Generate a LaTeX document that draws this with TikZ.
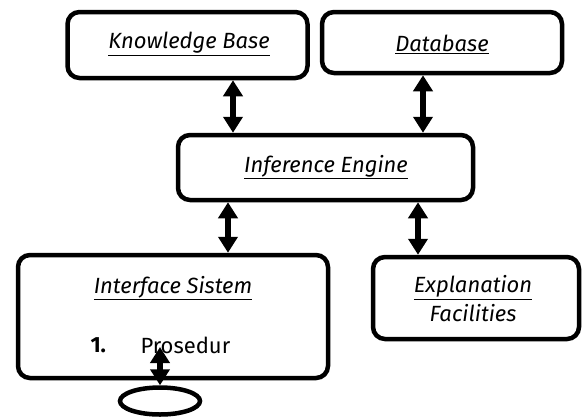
\documentclass[tikz,border=0pt]{standalone}
\usepackage{fontspec}
\setmainfont{Fira Sans}
\usetikzlibrary{arrows.meta,shapes.geometric}

\tikzset{
  blockbox/.style={draw=black, line width=4.5pt, rounded corners=12pt, fill=white,
    inner sep=0pt},
  label/.style={font=\fontsize{22}{27}\selectfont\itshape, align=center},
  plain/.style={font=\fontsize{22}{27}\selectfont, anchor=west},
  biarrow/.style={line width=6pt,
    {Triangle[width=19pt,length=16pt]}-{Triangle[width=19pt,length=16pt]}},
}
\newcommand{\ul}[1]{\underline{#1}}

\begin{document}
\begin{tikzpicture}[x=1pt,y=-1pt]
  \useasboundingbox (0,0) rectangle (583,418);

  % boxes
  \node[blockbox, minimum width=240pt, minimum height=66pt] (kb) at (187.5,45) {};
  \node[blockbox, minimum width=240pt, minimum height=61pt] (db) at (442,42.5) {};
  \node[blockbox, minimum width=295pt, minimum height=65pt] (ie) at (325.5,167.5) {};
  \node[blockbox, minimum width=310pt, minimum height=123pt] (is) at (173,316.5) {};
  \node[blockbox, minimum width=206pt, minimum height=82pt] (ef) at (476,298) {};
  \node[ellipse, draw=black, line width=4.5pt, minimum width=80pt, minimum height=27pt,
        inner sep=0pt] (el) at (160,401) {};

  % texts
  \node[label] (kbt) at (189,44) {\ul{Knowledge Base}};
  \node[label] (dbt) at (442,44) {\ul{Database}};
  \node[label] (iet) at (326,167) {\ul{Inference Engine}};
  \node[label] (ist) at (173,288) {\ul{Interface Sistem}};
  \node[label] (eft) at (473,299) {\ul{Explanation}\\[2pt]Facilities};
  \node[plain, font=\fontsize{22}{27}\selectfont\bfseries] (n1) at (87,345) {1.};
  \node[plain] (pr) at (137,345) {Prosedur};

  % connectors
  \draw[biarrow] ([xshift=45.5pt]kb.south) -- ([xshift=-92.5pt]ie.north);
  \draw[biarrow] ([xshift=-19pt]db.south) -- ([xshift=97.5pt]ie.north);
  \draw[biarrow] ([xshift=-97.5pt]ie.south) -- ([xshift=55pt]is.north);
  \draw[biarrow] ([xshift=92.5pt]ie.south) -- ([xshift=-58pt]ef.north);
  \coordinate (ptop) at (160,347);
  \draw[biarrow] (ptop) -- (el.north);
\end{tikzpicture}
\end{document}
